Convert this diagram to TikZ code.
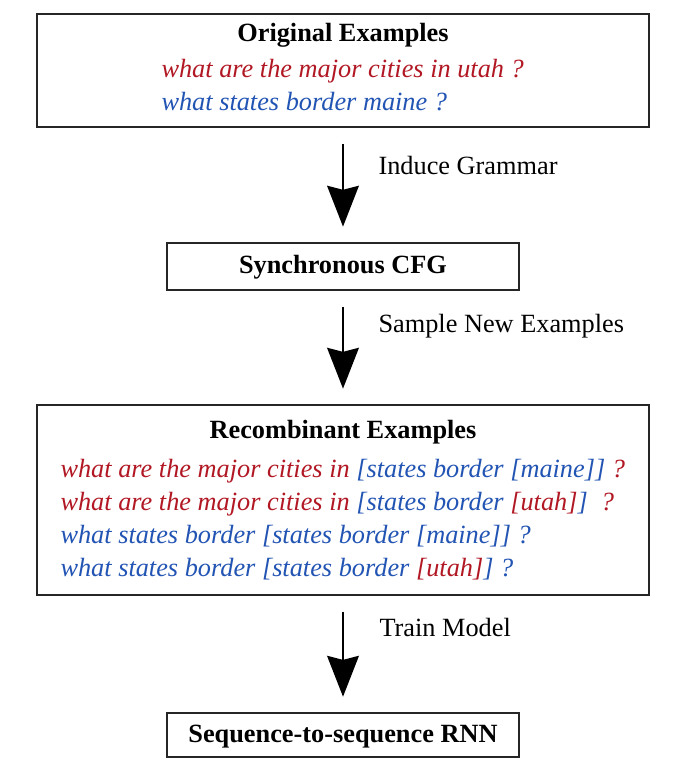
\documentclass[tikz,border=0pt]{standalone}
\usepackage{fontspec}
\setmainfont{Liberation Serif}
\usepackage{xcolor}
\usepackage{tikz}
\usetikzlibrary{arrows.meta,positioning}
\definecolor{exred}{RGB}{178,24,36}
\definecolor{exblue}{RGB}{34,84,180}
\newcommand{\exr}[1]{\textcolor{exred}{#1}}
\newcommand{\exb}[1]{\textcolor{exblue}{#1}}
\tikzset{
  dabox/.style={
    rectangle, draw=black!85, fill=white, line width=0.8pt, inner sep=0pt
  },
  datitle/.style={font=\bfseries,inner sep=0pt,text height=7pt,text depth=2pt},
  daline/.style={font=\itshape,anchor=west,inner sep=0pt,text height=7pt,text depth=2pt},
  daedge/.style={-{Stealth[length=15.5pt,width=12pt,inset=1.5pt]},line width=1pt,
    shorten <=6pt,shorten >=5.8pt},
  dalabel/.style={anchor=west,inner sep=0pt,text height=7pt,text depth=2pt}
}

\begin{document}
\begin{tikzpicture}[x=0.38pt,y=-0.38pt]
  \useasboundingbox (0,0) rectangle (678,764);
  % boxes
  \node[dabox,minimum width=232.6pt,minimum height=43pt] (orig) at (343,70.5) {};
  \node[dabox,minimum width=133.8pt,minimum height=17.9pt] (scfg) at (343,266.5) {};
  \node[dabox,minimum width=232.6pt,minimum height=72.2pt] (recomb) at (343,500) {};
  \node[dabox,minimum width=133.8pt,minimum height=16.7pt] (rnn) at (343,735) {};
  % original examples
  \node[datitle] (origtitle) at (343,35) {Original Examples};
  \node[daline] (orig1) at (161,71) {\exr{what are the major cities in utah ?}};
  \node[daline] (orig2) at (161,104) {\exb{what states border maine ?}};
  % grammar
  \node[datitle] (scfgtitle) at (343,267) {Synchronous CFG};
  % recombinant examples
  \node[datitle] (rectitle) at (343,432) {Recombinant Examples};
  \node[daline] (rec1) at (60,471) {\exr{what are the major cities in} \exb{[states border [maine]]} \exr{?}};
  \node[daline] (rec2) at (60,504) {\exr{what are the major cities in} \exb{[states border} \exr{[utah]}\exb{]}\hspace{0.5em}\exr{?}};
  \node[daline] (rec3) at (60,537) {\exb{what states border [states border [maine]] ?}};
  \node[daline] (rec4) at (60,570) {\exb{what states border [states border} \exr{[utah]}\exb{] ?}};
  % model
  \node[datitle] (rnntitle) at (343,736) {Sequence-to-sequence RNN};
  % steps
  \draw[daedge] (orig) -- (scfg);
  \draw[daedge] (scfg) -- (recomb);
  \draw[daedge] (recomb) -- (rnn);
  \node[dalabel] (induce) at (378,168) {Induce Grammar};
  \node[dalabel] (sample) at (378,326) {Sample New Examples};
  \node[dalabel] (train) at (379,630) {Train Model};
\end{tikzpicture}
\end{document}
